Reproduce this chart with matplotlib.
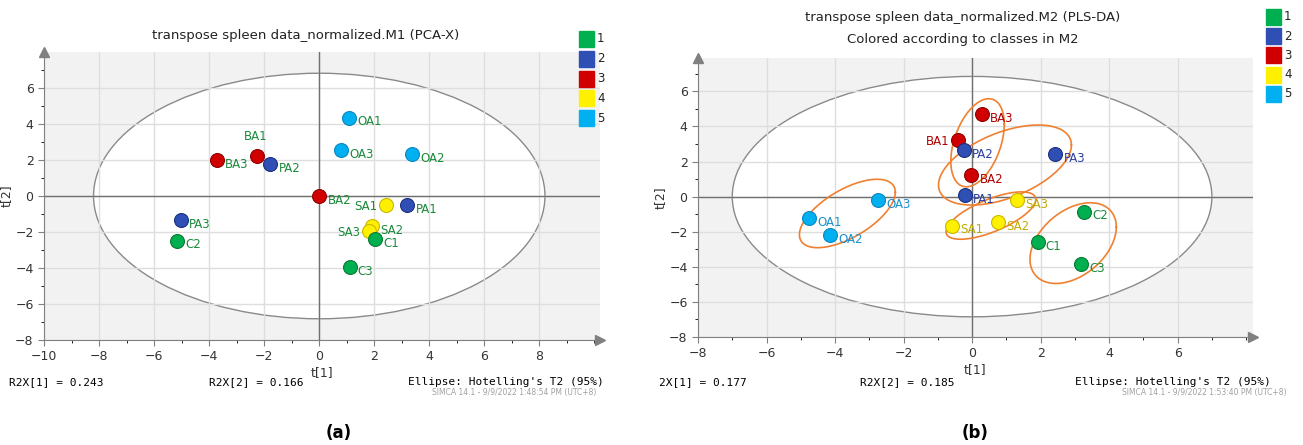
import numpy as np
import matplotlib
matplotlib.use("Agg")
import matplotlib.pyplot as plt
from matplotlib.patches import Ellipse, Rectangle

# ____________________________________________________________
# data

# (a) PCA-X scores
names_a = ["OA1", "OA3", "OA2", "BA1", "BA3", "PA2", "BA2", "SA1", "PA1",
           "PA3", "C2", "SA2", "SA3", "C1", "C3"]
t1_a = [1.08, 0.80, 3.38, -2.26, -3.72, -1.78, 0.0, 2.41, 3.20,
        -5.03, -5.15, 1.91, 1.81, 2.03, 1.10]
t2_a = [4.35, 2.55, 2.33, 2.24, 2.00, 1.76, 0.0, -0.50, -0.50,
        -1.33, -2.48, -1.67, -1.93, -2.41, -3.96]
cls_a = [5, 5, 5, 3, 3, 2, 3, 4, 2, 2, 1, 4, 4, 1, 1]
side_a = ["r", "r", "r", "t", "r", "r", "r", "l", "r", "r", "r", "r", "l", "r", "r"]

# (b) PLS-DA scores
names_b = ["BA3", "BA1", "PA2", "PA3", "BA2", "PA1", "SA3", "OA3", "OA1",
           "OA2", "SA1", "SA2", "C2", "C1", "C3"]
t1_b = [0.29, -0.42, -0.25, 2.43, -0.02, -0.21, 1.32, -2.74, -4.76,
        -4.14, -0.60, 0.76, 3.28, 1.91, 3.19]
t2_b = [4.70, 3.22, 2.65, 2.42, 1.22, 0.10, -0.20, -0.20, -1.24,
        -2.19, -1.66, -1.47, -0.86, -2.61, -3.84]
cls_b = [3, 3, 2, 2, 3, 2, 4, 5, 5, 5, 4, 4, 1, 1, 1]
side_b = ["r", "l", "r", "r", "r", "r", "r", "r", "r", "r", "r", "r", "r", "r", "r"]

# class ellipses in (b): centre, half extent in t[1] and t[2], correlation
grp_cx = [0.16, 0.96, 0.55, -3.64, 2.95]
grp_cy = [3.07, 1.80, -1.08, -0.96, -2.65]
grp_hx = [0.78, 1.94, 1.31, 1.40, 1.26]
grp_hy = [2.51, 2.28, 1.35, 1.95, 2.30]
grp_r = [0.42, 0.50, 0.68, 0.62, 0.40]

classes = [1, 2, 3, 4, 5]
class_colors = {1: "#00b050", 2: "#2f4fb5", 3: "#d00000", 4: "#fff000", 5: "#00b0f0"}
edge_colors = {1: "#0a7a30", 2: "#1c2f80", 3: "#900000", 4: "#c8b800", 5: "#0a88c0"}
text_colors = {1: "#1a8a3a", 2: "#2b3f9e", 3: "#b00000", 4: "#c0ac00", 5: "#1a90d0"}

r2x_a = ["R2X[1] = 0.243", "R2X[2] = 0.166"]
r2x_b = ["2X[1] = 0.177", "R2X[2] = 0.185"]

# ____________________________________________________________
# figure

W, H = 1303, 445
fig = plt.figure(figsize=(W / 100, H / 100), dpi=100)


def px_box(x0, x1, ytop, ybot):
    return [x0 / W, 1 - ybot / H, (x1 - x0) / W, (ybot - ytop) / H]


def fx(x):
    return x / W


def fy(y):
    return 1 - y / H


def setup_axes(ax, xlim, ylim, xticks, ell_w, ell_h):
    ax.set_facecolor("#f2f2f2")
    ax.set_xlim(*xlim)
    ax.set_ylim(*ylim)
    ax.add_patch(Ellipse((0, 0), 2 * ell_w, 2 * ell_h, facecolor="white",
                         edgecolor="#8a8a8a", lw=1.0, zorder=0.1))
    ax.set_xticks(xticks)
    ax.set_yticks(np.arange(-8, 7, 2))
    ax.set_xticks(np.arange(xlim[0], xlim[1], 1), minor=True)
    ax.set_yticks(np.arange(-8, 7.5, 1), minor=True)
    ax.grid(True, which="major", color="#dedede", lw=1.0)
    ax.set_axisbelow(True)
    ax.axhline(0, color="#707070", lw=1.0, zorder=0.6)
    ax.axvline(0, color="#707070", lw=1.0, zorder=0.6)
    for s in ["top", "right"]:
        ax.spines[s].set_visible(False)
    for s in ["left", "bottom"]:
        ax.spines[s].set_color("#808080")
    ax.tick_params(colors="#808080", labelcolor="#333333", labelsize=9, length=4)
    ax.tick_params(which="minor", length=2)
    ax.plot(1, 0, ">", color="#808080", ms=7, transform=ax.transAxes, clip_on=False)
    ax.plot(0, 1, "^", color="#808080", ms=7, transform=ax.transAxes, clip_on=False)
    ax.set_xlabel("t[1]", fontsize=9, color="#333333", labelpad=2)
    ax.set_ylabel("t[2]", fontsize=9, color="#333333", labelpad=2)


def scatter_labels(ax, names, xs, ys, cl, sides, colored):
    for n, x, y, c, s in zip(names, xs, ys, cl, sides):
        ax.scatter(x, y, s=100, color=class_colors[c], edgecolor=edge_colors[c],
                   lw=0.8, zorder=3)
        tc = text_colors[c] if colored else "#1a8a3a"
        if s == "r":
            ax.annotate(n, (x, y), xytext=(6, -3), textcoords="offset points",
                        ha="left", va="center", fontsize=8.5, color=tc, zorder=4)
        elif s == "l":
            ax.annotate(n, (x, y), xytext=(-6, -1), textcoords="offset points",
                        ha="right", va="center", fontsize=8.5, color=tc, zorder=4)
        else:
            ax.annotate(n, (x, y), xytext=(-1, 9), textcoords="offset points",
                        ha="center", va="bottom", fontsize=8.5, color=tc, zorder=4)


def legend(x, ytop, step):
    for i, c in enumerate(classes):
        yc = ytop + i * step
        fig.patches.append(Rectangle((fx(x), fy(yc + 8)), 15 / W, 16 / H,
                                     transform=fig.transFigure,
                                     color=class_colors[c]))
        fig.text(fx(x + 18), fy(yc), str(c), fontsize=8.5, va="center",
                 color="#222222")


# ---------------- (a)
ax1 = fig.add_axes(px_box(44, 600, 52, 340))
setup_axes(ax1, (-10, 10.2), (-8, 8), np.arange(-10, 9, 2), 8.2, 6.82)
scatter_labels(ax1, names_a, t1_a, t2_a, cls_a, side_a, False)
fig.text(fx(306), fy(36), "transpose spleen data_normalized.M1 (PCA-X)",
         ha="center", va="center", fontsize=9.5, color="#222222")
legend(579, 39, 19.8)
mono = "DejaVu Sans Mono"
fig.text(fx(9), fy(382), r2x_a[0], family=mono, fontsize=8, va="center")
fig.text(fx(209), fy(382), r2x_a[1], family=mono, fontsize=8, va="center")
fig.text(fx(604), fy(382), "Ellipse: Hotelling's T2 (95%)", family=mono,
         fontsize=8, va="center", ha="right")
fig.text(fx(596), fy(393), "SIMCA 14.1 - 9/9/2022 1:48:54 PM (UTC+8)",
         fontsize=5.5, color="#a0a0a0", va="center", ha="right")
fig.text(fx(339), fy(433), "(a)", fontsize=12, fontweight="bold",
         ha="center", va="center")

# ---------------- (b)
ax2 = fig.add_axes(px_box(698, 1253, 58, 337))
setup_axes(ax2, (-8, 8.2), (-8, 7.9), np.arange(-8, 7, 2), 7.0, 6.85)
tt = np.linspace(0, 2 * np.pi, 200)
for cx, cy, hx, hy, r in zip(grp_cx, grp_cy, grp_hx, grp_hy, grp_r):
    ex = cx + hx * np.cos(tt)
    ey = cy + hy * (r * np.cos(tt) + np.sqrt(1 - r**2) * np.sin(tt))
    ax2.plot(ex, ey, color="#f08030", lw=1.2, zorder=2)
scatter_labels(ax2, names_b, t1_b, t2_b, cls_b, side_b, True)
fig.text(fx(963), fy(18), "transpose spleen data_normalized.M2 (PLS-DA)",
         ha="center", va="center", fontsize=9.5, color="#222222")
fig.text(fx(963), fy(39), "Colored according to classes in M2",
         ha="center", va="center", fontsize=9.5, color="#222222")
legend(1266, 17, 19.2)
fig.text(fx(659), fy(382), r2x_b[0], family=mono, fontsize=8, va="center")
fig.text(fx(860), fy(382), r2x_b[1], family=mono, fontsize=8, va="center")
fig.text(fx(1271), fy(382), "Ellipse: Hotelling's T2 (95%)", family=mono,
         fontsize=8, va="center", ha="right")
fig.text(fx(1287), fy(393), "SIMCA 14.1 - 9/9/2022 1:53:40 PM (UTC+8)",
         fontsize=5.5, color="#a0a0a0", va="center", ha="right")
fig.text(fx(975), fy(433), "(b)", fontsize=12, fontweight="bold",
         ha="center", va="center")

fig.savefig("out.png", dpi=100, facecolor="white")
